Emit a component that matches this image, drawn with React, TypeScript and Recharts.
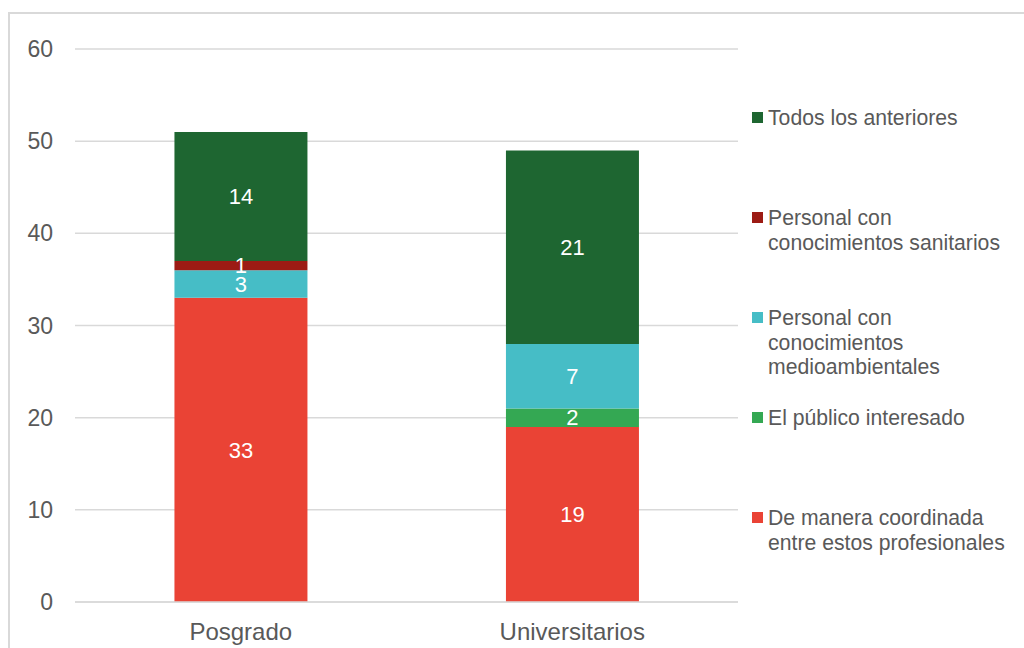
import { BarChart, Bar, XAxis, YAxis, CartesianGrid, LabelList } from "recharts";

const categorias = ["Posgrado", "Universitarios"];
const coordinada = [33, 19];
const publico = [0, 2];
const medioambientales = [3, 7];
const sanitarios = [1, 0];
const todos = [14, 21];
const ticksY = [0, 10, 20, 30, 40, 50, 60];

// orden de apilado: de abajo hacia arriba
const series = [
  { key: "coordinada", nombre: ["De manera coordinada", "entre estos profesionales"], color: "#ea4335", valores: coordinada },
  { key: "publico", nombre: ["El público interesado"], color: "#34a853", valores: publico },
  { key: "medioambientales", nombre: ["Personal con", "conocimientos", "medioambientales"], color: "#46bdc6", valores: medioambientales },
  { key: "sanitarios", nombre: ["Personal con", "conocimientos sanitarios"], color: "#9c1b14", valores: sanitarios },
  { key: "todos", nombre: ["Todos los anteriores"], color: "#1e6631", valores: todos },
];

const data = categorias.map((cat, i) => {
  const fila: Record<string, string | number> = { categoria: cat };
  series.forEach((s) => {
    fila[s.key] = s.valores[i];
  });
  return fila;
});

const fuente = "'Liberation Sans', Arial, sans-serif";
const gris = "#595959";

function Leyenda() {
  return (
    <div style={{ position: "absolute", left: 752, top: 106, fontFamily: fuente, fontSize: 21.2, color: gris }}>
      {[...series].reverse().map((s) => (
        <div key={s.key} style={{ height: 100, display: "flex", alignItems: "flex-start" }}>
          <div style={{ width: 11, height: 11, background: s.color, marginTop: 6, marginRight: 5, flexShrink: 0 }} />
          <div style={{ lineHeight: "24.5px", whiteSpace: "nowrap" }}>
            {s.nombre.map((linea) => (
              <div key={linea}>{linea}</div>
            ))}
          </div>
        </div>
      ))}
    </div>
  );
}

export default function App() {
  return (
    <div style={{ position: "absolute", left: 0, top: 0, width: 1024, height: 648, background: "#fff", overflow: "hidden" }}>
      <div
        style={{
          position: "absolute",
          left: 8,
          top: 12,
          width: 1100,
          height: 700,
          border: "2px solid #d9d9d9",
          boxSizing: "border-box",
        }}
      />
      <div style={{ position: "absolute", left: 0, top: 0 }}>
        <BarChart
          width={1024}
          height={648}
          data={data}
          margin={{ top: 49, right: 286, bottom: 0, left: 0 }}
          barCategoryGap="30%"
        >
          <CartesianGrid vertical={false} stroke="#d9d9d9" strokeWidth={1.5} />
          <XAxis
            dataKey="categoria"
            height={46}
            axisLine={{ stroke: "#d9d9d9", strokeWidth: 1.5 }}
            tickLine={false}
            tickMargin={15}
            tick={{ fill: gris, fontSize: 24, fontFamily: fuente }}
          />
          <YAxis
            width={75}
            domain={[0, 60]}
            ticks={ticksY}
            axisLine={false}
            tickLine={false}
            tickMargin={16}
            tick={{ fill: gris, fontSize: 23, fontFamily: fuente }}
          />
          {series.map((s) => (
            <Bar key={s.key} dataKey={s.key} stackId="a" fill={s.color} isAnimationActive={false}>
              <LabelList
                dataKey={s.key}
                position="center"
                fill="#ffffff"
                style={{ fontSize: 22, fontFamily: fuente }}
                formatter={(v: any) => (v ? v : "")}
              />
            </Bar>
          ))}
        </BarChart>
      </div>
      <Leyenda />
    </div>
  );
}
